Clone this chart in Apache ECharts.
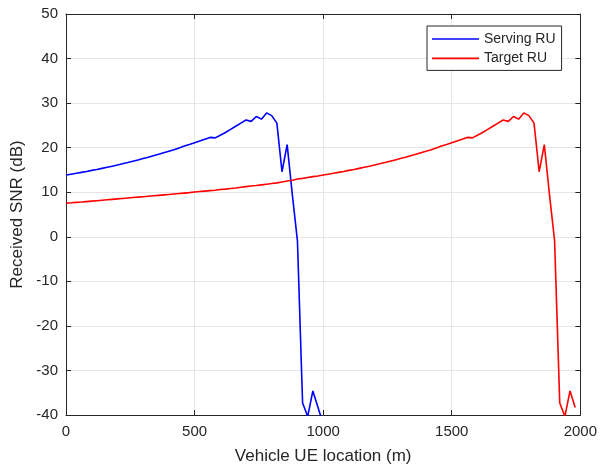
<!DOCTYPE html>
<html>
<head>
<meta charset="utf-8">
<script src="https://cdn.jsdelivr.net/npm/echarts@6/dist/echarts.min.js"></script>
<style>html,body{margin:0;padding:0;background:#fff}#c{width:600px;height:470px}</style>
</head>
<body>
<div id="c"></div>
<script>
// Vehicle UE location (m)
const servingX = [0,20,40,60,80,100,120,140,160,180,200,220,240,260,280,300,320,340,360,380,400,420,440,460,480,500,520,540,560,580,600,620,640,660,680,700,720,740,760,780,800,820,840,860,880,900,920,940,960,980,1000];
// Received SNR (dB), serving RU
const servingSnr = [13.85,14.05,14.25,14.45,14.65,14.9,15.1,15.35,15.6,15.85,16.1,16.4,16.65,16.95,17.25,17.55,17.85,18.2,18.5,18.85,19.2,19.55,19.95,20.35,20.7,21.1,21.5,21.9,22.3,22.2,22.8,23.4,24.1,24.8,25.5,26.2,25.9,27.0,26.4,27.8,27.2,25.5,14.6,20.7,9.5,-0.9,-37.3,-40.3,-34.6,-38.3,-42];
const targetX = [0,20,40,60,80,100,120,140,160,180,200,220,240,260,280,300,320,340,360,380,400,420,440,460,480,500,520,540,560,580,600,620,640,660,680,700,720,740,760,780,800,820,840,860,880,900,920,940,960,980,
  1000,1020,1040,1060,1080,1100,1120,1140,1160,1180,1200,1220,1240,1260,1280,1300,1320,1340,1360,1380,1400,1420,1440,1460,1480,1500,1520,1540,1560,1580,1600,1620,1640,1660,1680,1700,1720,1740,1760,1780,1800,1820,1840,1860,1880,1900,1920,1940,1960,1980];
// Received SNR (dB), target RU
const targetSnr = [7.55,7.63,7.72,7.8,7.9,8.0,8.1,8.2,8.3,8.4,8.5,8.6,8.7,8.8,8.9,9.0,9.1,9.2,9.3,9.4,9.5,9.6,9.7,9.8,9.9,10.05,10.15,10.25,10.35,10.45,10.6,10.7,10.85,10.95,11.1,11.25,11.4,11.5,11.65,11.8,11.95,12.1,12.3,12.5,12.7,12.95,13.1,13.3,13.5,13.65,
  13.85,14.05,14.25,14.45,14.65,14.9,15.1,15.35,15.6,15.85,16.1,16.4,16.65,16.95,17.25,17.55,17.85,18.2,18.5,18.85,19.2,19.55,19.95,20.35,20.7,21.1,21.5,21.9,22.3,22.2,22.8,23.4,24.1,24.8,25.5,26.2,25.9,27.0,26.4,27.8,27.2,25.5,14.6,20.7,9.5,-0.9,-37.3,-40.3,-34.6,-38.3];
const xTicks = {min: 0, max: 2000, interval: 500};
const yTicks = {min: -40, max: 50, interval: 10};
const seriesNames = ['Serving RU', 'Target RU'];

const FONT = '"Liberation Sans", Arial, Helvetica, sans-serif';
const AX = '#262626';
const chart = echarts.init(document.getElementById('c'), null, {renderer: 'canvas'});

function pairs(xs, ys) { return xs.map((x, i) => [x, ys[i]]); }
const plain = v => String(v);

const axisCommon = {
  type: 'value',
  axisLine: {show: true, onZero: false, lineStyle: {color: AX, width: 1}},
  axisTick: {show: true, inside: true, length: 5, lineStyle: {color: AX, width: 1}},
};

chart.setOption({
  animation: false,
  backgroundColor: '#fff',
  textStyle: {fontFamily: FONT},
  grid: {left: 66, right: 19, top: 14, bottom: 51, containLabel: false},
  legend: {
    data: seriesNames.map(n => ({name: n, icon: 'path://M0,0H47V1.6H0Z'})),
    orient: 'vertical',
    left: 427, top: 26,
    padding: [6, 6, 5, 5],
    itemWidth: 47, itemHeight: 14, itemGap: 5.4,
    borderColor: AX, borderWidth: 1, backgroundColor: '#fff',
    textStyle: {fontFamily: FONT, fontSize: 14, color: AX}
  },
  xAxis: [
    Object.assign({}, axisCommon, {
      min: xTicks.min, max: xTicks.max, interval: xTicks.interval, position: 'bottom',
      name: 'Vehicle UE location (m)', nameLocation: 'middle', nameGap: 33,
      nameTextStyle: {fontFamily: FONT, fontSize: 17, color: AX},
      axisLabel: {fontFamily: FONT, fontSize: 15, color: AX, margin: 9, formatter: plain},
      splitLine: {show: true, lineStyle: {color: '#e6e6e6', width: 1}}
    }),
    Object.assign({}, axisCommon, {
      min: xTicks.min, max: xTicks.max, interval: xTicks.interval, position: 'top',
      axisLabel: {show: false}, splitLine: {show: false}
    })
  ],
  yAxis: [
    Object.assign({}, axisCommon, {
      min: yTicks.min, max: yTicks.max, interval: yTicks.interval, position: 'left',
      name: 'Received SNR (dB)', nameLocation: 'middle', nameGap: 38,
      nameTextStyle: {fontFamily: FONT, fontSize: 17, color: AX},
      axisLabel: {fontFamily: FONT, fontSize: 15, color: AX, margin: 8, formatter: plain},
      splitLine: {show: true, lineStyle: {color: '#e6e6e6', width: 1}}
    }),
    Object.assign({}, axisCommon, {
      min: yTicks.min, max: yTicks.max, interval: yTicks.interval, position: 'right',
      axisLabel: {show: false}, splitLine: {show: false}
    })
  ],
  series: [
    {
      name: seriesNames[0], type: 'line', data: pairs(servingX, servingSnr),
      symbol: 'none', showSymbol: false, clip: true,
      lineStyle: {color: '#0000ff', width: 1.6}, itemStyle: {color: '#0000ff'}
    },
    {
      name: seriesNames[1], type: 'line', data: pairs(targetX, targetSnr),
      symbol: 'none', showSymbol: false, clip: true,
      lineStyle: {color: '#ff0000', width: 1.6}, itemStyle: {color: '#ff0000'}
    }
  ]
});
</script>
</body>
</html>
